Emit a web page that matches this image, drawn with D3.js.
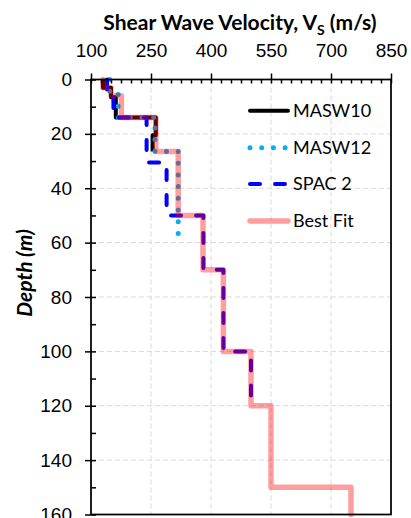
<!DOCTYPE html>
<html>
<head>
<meta charset="utf-8">
<script src="https://cdn.jsdelivr.net/npm/d3@7"></script>
<style>
  body { margin: 0; background: #fff; }
  svg { display: block; }
</style>
</head>
<body>
<script>
// step profiles: one velocity per layer, depth boundaries (n+1)
var masw10Vs    = [130, 150, 162, 262, 254];
var masw10Depth = [0, 3, 6.5, 14, 20.5, 26.5];

var masw12Vs    = [147, 168, 260, 318];
var masw12Depth = [0, 5.5, 14, 26.5, 57];

var spac2Vs     = [140, 156, 239, 289, 381, 431, 500];
var spac2Depth  = [0, 4, 14, 30.5, 50, 70, 100, 120];

var bestVs      = [130, 150, 176, 262, 318, 380, 431, 500, 550, 750];
var bestDepth   = [0, 3, 6, 14, 26.5, 50, 70, 100, 120, 150, 160];

var xTicks = [100, 250, 400, 550, 700, 850];
var yTicks = [0, 20, 40, 60, 80, 100, 120, 140, 160];
var seriesNames = ["MASW10", "MASW12", "SPAC 2", "Best Fit"];

var width = 411, height = 518;

const svg = d3.select("body")
    .append("svg")
    .attr("width", width)
    .attr("height", height);

const x = d3.scaleLinear().domain([100, 850]).range([91, 391]);
const y = d3.scaleLinear().domain([0, 160]).range([79.5, 514.5]);

// grid
svg.append("g").selectAll("line")
    .data(xTicks.slice(1, -1))
    .join("line")
    .attr("x1", d => x(d)).attr("x2", d => x(d))
    .attr("y1", y(0)).attr("y2", y(160))
    .style("stroke", "#d9d9d9").style("stroke-width", 1)
    .style("stroke-dasharray", "5,3");

svg.append("g").selectAll("line")
    .data(yTicks.slice(1, -1))
    .join("line")
    .attr("x1", x(100)).attr("x2", x(850))
    .attr("y1", d => y(d)).attr("y2", d => y(d))
    .style("stroke", "#d9d9d9").style("stroke-width", 1)
    .style("stroke-dasharray", "5,3");

function stepPoints(vs, depths) {
    var pts = [];
    vs.forEach((v, i) => {
        pts.push([v, depths[i]]);
        pts.push([v, depths[i + 1]]);
    });
    return pts;
}

const line = d3.line().x(d => x(d[0])).y(d => y(d[1]));

var styles = [
    {stroke: "#000000", width: 4, dash: null, cap: "butt", opacity: 1},
    {stroke: "#00b0f0", width: 5, dash: "0,11.7", cap: "round", opacity: 1},
    {stroke: "#0000ff", width: 4, dash: "10,15", cap: "round", opacity: 1},
    {stroke: "#ff0000", width: 5.5, dash: null, cap: "round", opacity: 0.38}
];

var profiles = [
    stepPoints(masw10Vs, masw10Depth),
    stepPoints(masw12Vs, masw12Depth),
    stepPoints(spac2Vs, spac2Depth),
    stepPoints(bestVs, bestDepth)
];

const plot = svg.append("g");
profiles.forEach((pts, i) => {
    var s = styles[i];
    plot.append("path")
        .attr("d", line(pts))
        .style("fill", "none")
        .style("stroke", s.stroke)
        .style("stroke-width", s.width)
        .style("stroke-dasharray", s.dash)
        .style("stroke-linecap", s.cap)
        .style("stroke-linejoin", "round")
        .style("stroke-opacity", s.opacity);
});

// axes
var tickFont = "'Liberation Sans', Arial, sans-serif";

svg.append("g")
    .attr("transform", "translate(0," + y(0) + ")")
    .call(d3.axisTop(x).tickValues(xTicks).tickSize(6).tickPadding(17));
svg.append("g")
    .attr("transform", "translate(0," + y(0) + ")")
    .call(d3.axisBottom(x).tickValues(d3.range(100, 851, 25)).tickSize(4).tickFormat(""));

svg.append("g")
    .attr("transform", "translate(" + x(100) + ",0)")
    .call(d3.axisLeft(y).tickValues(yTicks).tickSize(6).tickPadding(13));
svg.append("g")
    .attr("transform", "translate(" + x(100) + ",0)")
    .call(d3.axisRight(y).tickValues(d3.range(0, 161, 10)).tickSize(5).tickFormat(""));

svg.selectAll(".domain").remove();
svg.selectAll(".tick line").style("stroke", "#000").style("stroke-width", 1.5);
svg.selectAll(".tick text")
    .style("font-family", tickFont)
    .style("font-size", "19px")
    .style("fill", "#000");

// frame
svg.append("rect")
    .attr("x", x(100)).attr("y", y(0))
    .attr("width", x(850) - x(100)).attr("height", y(160) - y(0))
    .style("fill", "none").style("stroke", "#000").style("stroke-width", 1.75);

// titles
const title = svg.append("text")
    .attr("x", 240).attr("y", 30)
    .attr("text-anchor", "middle")
    .style("font-family", "Lato, sans-serif")
    .style("font-weight", "bold")
    .style("font-size", "21px");
title.append("tspan").text("Shear Wave Velocity, V");
title.append("tspan").attr("dy", 5).style("font-size", "14px").text("S");
title.append("tspan").attr("dy", -5).text(" (m/s)");

svg.append("text")
    .attr("transform", "translate(32,273) rotate(-90)")
    .attr("text-anchor", "middle")
    .style("font-family", "Lato, sans-serif")
    .style("font-weight", "bold")
    .style("font-style", "italic")
    .style("font-size", "21px")
    .text("Depth (m)");

// legend
var legendY = [110.7, 147.7, 184, 221];
const legend = svg.append("g");
seriesNames.forEach((name, i) => {
    var s = styles[i];
    legend.append("line")
        .attr("x1", 250).attr("x2", 288)
        .attr("y1", legendY[i]).attr("y2", legendY[i])
        .style("stroke", s.stroke)
        .style("stroke-width", s.width)
        .style("stroke-dasharray", s.dash)
        .style("stroke-linecap", s.cap === "butt" ? "round" : s.cap)
        .style("stroke-opacity", s.opacity);
    legend.append("text")
        .attr("x", 293).attr("y", legendY[i])
        .attr("dy", "0.35em")
        .style("font-family", "Lato, sans-serif")
        .style("font-size", "18px")
        .text(name);
});
</script>
</body>
</html>
